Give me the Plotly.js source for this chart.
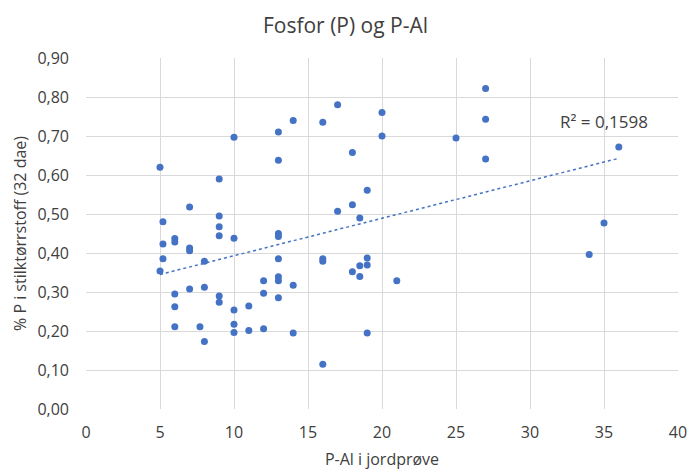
<!DOCTYPE html>
<html>
<head>
<meta charset="utf-8">
<script src="https://cdn.plot.ly/plotly-3.0.1.min.js"></script>
<style>html,body{margin:0;padding:0;background:#fff;}#chart{width:691px;height:470px;}</style>
</head>
<body>
<div id="chart"></div>
<script>
const pAl = [5, 5, 5.2, 5.2, 5.2, 6, 6, 6, 6, 6, 7, 7, 7, 7, 8, 8, 7.7, 8, 9, 9, 9, 9, 9, 9,
  10, 10, 10, 10, 10, 11, 11, 12, 12, 12, 13, 13, 13, 13, 13, 13, 13, 13, 14, 14, 14,
  16, 16, 16, 16, 17, 17, 18, 18, 18, 18.5, 18.5, 18.5, 19, 19, 19, 19, 20, 20, 21, 25,
  27, 27, 27, 34, 35, 36];
const pPct = [0.62, 0.354, 0.48, 0.423, 0.385, 0.437, 0.428, 0.295, 0.262, 0.211, 0.518, 0.413, 0.406, 0.308,
  0.379, 0.312, 0.211, 0.173, 0.59, 0.495, 0.467, 0.444, 0.29, 0.274,
  0.697, 0.438, 0.254, 0.217, 0.196, 0.264, 0.201, 0.329, 0.297, 0.206,
  0.71, 0.638, 0.45, 0.442, 0.385, 0.339, 0.329, 0.285, 0.74, 0.317, 0.195,
  0.735, 0.385, 0.379, 0.115, 0.78, 0.507, 0.658, 0.524, 0.352, 0.49, 0.367, 0.34,
  0.561, 0.387, 0.369, 0.195, 0.76, 0.70, 0.329, 0.695, 0.822, 0.743, 0.641, 0.396, 0.477, 0.672];
const r2Label = "R² = 0,1598";

// least-squares trend line
const n = pAl.length;
const mx = pAl.reduce((a,b)=>a+b,0)/n;
const my = pPct.reduce((a,b)=>a+b,0)/n;
let sxy = 0, sxx = 0;
for (let i=0;i<n;i++){ sxy += (pAl[i]-mx)*(pPct[i]-my); sxx += (pAl[i]-mx)**2; }
const slope = sxy/sxx, icpt = my - slope*mx;
const xMin = Math.min(...pAl), xMax = Math.max(...pAl);
const trendX = [xMin, xMax];
const trendY = trendX.map(x => icpt + slope*x);

const blue = '#4472C4';
const txt = '#404040';
const fontFam = '"Open Sans", "Noto Sans", sans-serif';
const data = [
  {x: pAl, y: pPct, type: 'scatter', mode: 'markers',
   marker: {color: blue, size: 7}, hoverinfo: 'x+y'},
  {x: trendX, y: trendY, type: 'scatter', mode: 'lines',
   line: {color: blue, width: 1.5, dash: 'dot'}}
];
const layout = {
  width: 691, height: 470,
  margin: {l: 86, r: 13, t: 58, b: 61},
  paper_bgcolor: '#fff', plot_bgcolor: '#fff',
  showlegend: false,
  separators: ', ',
  font: {family: fontFam, color: txt, size: 16},
  title: {text: 'Fosfor (P) og P-Al', x: 0.5, xanchor: 'center', y: 0.945, yanchor: 'middle',
          font: {family: fontFam, size: 21, color: txt}},
  xaxis: {range: [0, 40], dtick: 5, tick0: 0, showgrid: true, gridcolor: '#d9d9d9', gridwidth: 1,
          zeroline: false, showline: false, ticks: '', ticklabelstandoff: 12,
          tickfont: {size: 16, color: txt},
          title: {text: 'P-Al i jordprøve', font: {size: 16, color: txt}, standoff: 12}},
  yaxis: {range: [0, 0.9], dtick: 0.1, tick0: 0, tickformat: '.2f', showgrid: true, gridcolor: '#d9d9d9', gridwidth: 1,
          zeroline: false, showline: false, ticks: '', ticklabelstandoff: 16,
          tickfont: {size: 16, color: txt},
          title: {text: '% P i stilktørrstoff (32 dae)', font: {size: 16, color: txt}, standoff: 6}},
  annotations: [{x: 35, y: 0.738, xref: 'x', yref: 'y', text: r2Label, showarrow: false,
                 font: {family: fontFam, size: 17, color: txt}}]
};
Plotly.newPlot('chart', data, layout, {displayModeBar: false, staticPlot: true});
</script>
</body>
</html>
